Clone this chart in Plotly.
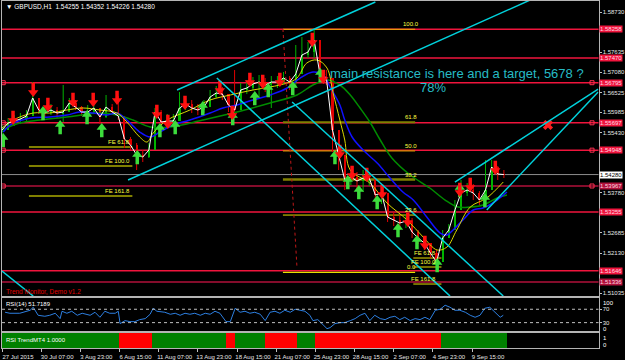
import plotly.graph_objects as go

W, H = 625, 360

# ---------------- data ----------------
tick_bars = [0, 64, 128, 192, 256, 320, 384, 448, 512, 576, 640, 704, 768]
tick_labels = ["27 Jul 2015", "30 Jul 07:00", "3 Aug 23:00", "6 Aug 15:00", "11 Aug 07:00",
               "13 Aug 23:00", "18 Aug 15:00", "21 Aug 07:00", "25 Aug 23:00", "28 Aug 15:00",
               "2 Sep 07:00", "4 Sep 23:00", "9 Sep 15:00"]

candle_bar = list(range(0, 830, 10))
first_open = 1.55450
closes = [1.55500,1.55691,1.55746,1.55801,1.55883,1.56376,1.56047,1.55965,1.56047,1.55965,
          1.55992,1.56239,1.56129,1.55992,1.55992,1.56102,1.55856,1.56129,1.55992,1.55883,
          1.55253,1.55089,1.54815,1.54760,1.54952,1.55992,1.55719,1.55746,1.55746,1.56102,
          1.56211,1.56102,1.56047,1.56129,1.56403,1.56513,1.56485,1.56184,1.56047,1.56595,
          1.56650,1.56759,1.56814,1.56732,1.56814,1.56814,1.56923,1.56814,1.57033,1.57553,
          1.57635,1.57964,1.56978,1.56923,1.55500,1.54815,1.54131,1.54213,1.54103,1.54185,
          1.54185,1.53720,1.53775,1.53118,1.53035,1.52953,1.53008,1.52707,1.52543,1.52406,
          1.52132,1.51885,1.52543,1.52762,1.53309,1.53775,1.53857,1.53775,1.53583,1.53857,
          1.54487,1.54295,1.54280]
highs = [1.55664,1.55828,1.55910,1.55965,1.56047,1.56814,1.56321,1.56157,1.56211,1.56129,
         1.56732,1.56376,1.56321,1.56157,1.56184,1.56376,1.56047,1.56458,1.56211,1.56431,
         1.55828,1.55308,1.55144,1.54952,1.55144,1.56102,1.56047,1.55938,1.55938,1.56540,
         1.56376,1.56321,1.56211,1.56321,1.56595,1.56704,1.56677,1.56431,1.57142,1.56786,
         1.56869,1.56951,1.57005,1.56923,1.56978,1.56978,1.57088,1.56978,1.57827,1.58046,
         1.57909,1.58238,1.57635,1.57142,1.56869,1.55089,1.54459,1.54404,1.54350,1.54404,
         1.54350,1.54131,1.53966,1.53583,1.53254,1.53172,1.53200,1.53090,1.52762,1.52597,
         1.52351,1.52214,1.52762,1.52926,1.53583,1.54131,1.54048,1.54021,1.53829,1.54678,
         1.54678,1.54514,1.54404]
lows = [1.55363,1.55554,1.55609,1.55664,1.55746,1.55910,1.55938,1.55828,1.55910,1.55828,
        1.55719,1.56102,1.56047,1.55883,1.55828,1.55965,1.55664,1.55828,1.55910,1.55773,
        1.55007,1.54952,1.54404,1.54623,1.54733,1.55636,1.55500,1.55609,1.55609,1.55828,
        1.56047,1.55965,1.55910,1.55965,1.56184,1.56376,1.56321,1.55992,1.55828,1.56431,
        1.56485,1.56595,1.56376,1.56540,1.56102,1.56650,1.56759,1.56595,1.56650,1.57361,
        1.57471,1.57471,1.56869,1.56732,1.54897,1.54404,1.53857,1.53994,1.53857,1.53802,
        1.53966,1.53528,1.53473,1.52981,1.52871,1.52762,1.52816,1.52543,1.52378,1.52214,
        1.51995,1.51721,1.52077,1.52543,1.52816,1.53583,1.53693,1.53583,1.53446,1.53473,
        1.54267,1.54131,1.54185]

yellow_bar = [0,18,51,78,106,132,160,188,204,225,237,247,270,307,340,373,410,438,466,482,
              498,515,531,541,552,560,569,601,629,662,688,711,727,743,765,792,819]
yellow_val = [1.55554,1.55773,1.55965,1.55965,1.56047,1.56102,1.56047,1.55965,1.55719,1.55308,
              1.55171,1.55418,1.55773,1.56047,1.56321,1.56458,1.56595,1.56677,1.56786,1.56923,
              1.57334,1.57416,1.57197,1.56513,1.55773,1.55226,1.54404,1.54048,1.53501,1.53035,
              1.52570,1.52214,1.52296,1.52762,1.53391,1.53638,1.54076]
blue_bar = [2,13,46,78,106,127,149,172,188,204,225,242,258,279,307,340,361,384,410,438,
            466,487,508,525,536,552,560,572,590,613,634,655,672,694,716,727,737,753,770,786,809,825]
blue_val = [1.55445,1.55636,1.55828,1.55856,1.55910,1.55992,1.55965,1.55910,1.55965,1.55773,
            1.55445,1.55308,1.55445,1.55636,1.55773,1.55965,1.56102,1.56184,1.56321,1.56458,
            1.56650,1.56923,1.57088,1.57005,1.56677,1.56184,1.55773,1.55308,1.54952,1.54596,
            1.54185,1.53802,1.53583,1.53118,1.52679,1.52625,1.52762,1.53035,1.53309,1.53364,
            1.53583,1.53802]
green_bar = [0,29,62,106,160,188,214,242,275,328,384,438,482,508,531,552,569,585,601,618,
             637,667,699,724,745,765,786,809,825]
green_val = [1.55500,1.55691,1.55773,1.55856,1.55965,1.55910,1.55773,1.55582,1.55582,1.55773,
             1.55992,1.56239,1.56458,1.56732,1.56869,1.56732,1.56458,1.56102,1.55719,1.55226,
             1.54733,1.54267,1.53912,1.53583,1.53391,1.53391,1.53446,1.53638,1.53720]

up_arrow_bar = [2,67,95,139,163,221,258,283,328,377,413,435,475,520,544,565,583,613,647,678,711,748,789]
up_arrow_price = [1.55226,1.55965,1.55582,1.55856,1.55500,1.54760,1.55500,1.55582,1.56102,1.55828,
                  1.56376,1.56595,1.56650,1.57005,1.54760,1.54076,1.53802,1.53528,1.52762,1.52433,
                  1.51803,1.53857,1.53583]
down_arrow_bar = [18,51,75,116,149,188,253,271,299,356,376,405,426,454,507,525,552,572,596,621,
                  663,691,748,765,806]
down_arrow_price = [1.55828,1.56595,1.56184,1.56321,1.56321,1.56376,1.55992,1.55719,1.56239,1.56650,
                    1.55965,1.56869,1.56814,1.56869,1.57964,1.56951,1.54897,1.54322,1.54267,1.53802,
                    1.53035,1.52406,1.53857,1.53994,1.54459]

hline_prices = [1.58258, 1.57470, 1.56795, 1.55697, 1.54948, 1.53967, 1.53255, 1.51646, 1.51336]
hline_dark = [False, False, False, False, False, True, False, False, True]
hline_marked = [False, False, True, True, True, True, False, False, False]
bid_price = 1.54280
price_ticks = [1.58730, 1.57635, 1.57080, 1.56525, 1.55985, 1.55430, 1.53780, 1.52685, 1.52130, 1.51035]

fib_levels = [1.58258, 1.55715, 1.54929, 1.54143, 1.53171, 1.51600]
fib_labels = ["100.0", "61.8", "50.0", "38.2", "23.6", "0.0"]
fib_colors = ["#E8C000", "#808000", "#D09000", "#808000", "#E8E000", "#E8E000"]
fib_widths = [1.2, 2, 1.2, 2.5, 1, 1.2]
fib_bar0, fib_bar1 = 459, 675

fe1_levels = [1.55034, 1.54514, 1.53693]
fe1_labels = ["FE 61.8", "FE 100.0", "FE 161.8"]
fe1_bar0, fe1_bar1 = 44, 213
fe2_levels = [1.51995, 1.51749, 1.51283]
fe2_labels = ["FE 61.8", "FE 100.0", "FE 161.8"]
fe2_bar0, fe2_bar1 = 672, 718

# trend lines (bar0, price0, bar1, price1)
chan_bar0 = [286, 206, 351, 474, 0, 740, 792]
chan_p0 = [1.56595, 1.54131, 1.56923, 1.56266, 1.51639, 1.54076, 1.53309]
chan_bar1 = [610, 863, 732, 819, 51, 974, 974]
chan_p1 = [1.59004, 1.59059, 1.50955, 1.50955, 1.50955, 1.56622, 1.56540]

vline_bar = [459, 482]
vline_price = [1.58265, 1.51721]
x_mark_bar, x_mark_price = 892, 1.55637

note_bar, note_price = 532, 1.57060
pct_bar, pct_price = 680, 1.56677

rsi_bar = [5,13,29,46,51,59,70,78,87,95,98,106,114,123,131,144,152,160,168,176,185,190,193,201,209,
           217,225,234,242,247,253,266,275,283,291,299,307,315,324,332,340,348,356,366,373,381,389,397,
           405,413,422,430,438,446,454,462,471,479,487,495,503,508,516,523,531,536,544,552,560,569,577,
           585,593,601,609,618,626,634,642,650,658,667,675,683,691,699,708,716,724,732,740,748,757,765,
           773,781,789,797,806,814,819]
rsi_val = [61,58,58,67,76,52,49,52,58,42,64,58,64,52,58,52,61,46,64,58,58,64,27,36,33,
           33,39,42,55,73,64,61,55,58,52,58,55,58,52,58,55,64,58,33,33,73,61,64,
           58,61,55,36,61,64,58,67,61,70,67,64,52,36,39,27,12,15,27,30,30,36,42,
           52,58,36,52,42,39,46,49,39,46,36,42,39,46,39,67,70,82,76,67,67,61,52,
           46,52,73,76,61,46,52]
rsi_last = 51.7189

trend_edges = [0, 191, 245, 366, 381, 430, 482, 511, 717, 825]
trend_state = [1, 0, 1, 0, 1, 0, 1, 0, 1]

# ---------------- layout helpers ----------------
def py(p):  # pixel row -> paper fraction
    return 1 - p / H

def px(p):
    return p / W

X_DOM = [px(2), px(598.5)]
X_RANGE = [0, 974.6]
Y_MAIN = [1.50955, 1.59032]
PX_PRICE = (Y_MAIN[1] - Y_MAIN[0]) / 295.0   # price per screen pixel (for glyph offsets)
FONT = "Liberation Sans"

fig = go.Figure()

# candles
opens = [first_open] + closes[:-1]
hi = [max(h, o, c) for h, o, c in zip(highs, opens, closes)]
lo = [min(l, o, c) for l, o, c in zip(lows, opens, closes)]
for up, col in ((True, "#00B400"), (False, "#E00000")):
    wx, wy, bx, bb, bh = [], [], [], [], []
    for b, o, c, h, l in zip(candle_bar, opens, closes, hi, lo):
        if (c >= o) != up:
            continue
        wx += [b, b, None]
        wy += [l, h, None]
        bx.append(b)
        bb.append(min(o, c))
        bh.append(max(abs(c - o), 0.00008))
    fig.add_trace(go.Scatter(x=wx, y=wy, mode="lines", line=dict(color=col, width=1),
                             hoverinfo="skip"))
    fig.add_trace(go.Bar(x=bx, y=bh, base=bb, width=3.5, marker=dict(color=col, line_width=0)))

fig.add_trace(go.Scatter(x=green_bar, y=green_val, mode="lines", line=dict(color="#008C00", width=1.5, shape="spline")))
fig.add_trace(go.Scatter(x=blue_bar, y=blue_val, mode="lines", line=dict(color="#1010FF", width=1.5, shape="spline")))
fig.add_trace(go.Scatter(x=yellow_bar, y=yellow_val, mode="lines", line=dict(color="#D8D800", width=1, shape="spline")))
fig.add_trace(go.Scatter(x=candle_bar, y=closes, mode="lines", line=dict(color="#FFFFFF", width=1)))

# arrows: head + stem
def add_arrows(bars, prices, up, col):
    sgn = 1 if up else -1
    heads = [p + sgn * 2.5 * PX_PRICE for p in prices]
    stems = [p - sgn * 3.0 * PX_PRICE for p in prices]
    fig.add_trace(go.Scatter(x=bars, y=stems, mode="markers",
                             marker=dict(symbol="line-ns", size=6, line=dict(color=col, width=3.5))))
    fig.add_trace(go.Scatter(x=bars, y=heads, mode="markers",
                             marker=dict(symbol="triangle-up" if up else "triangle-down", size=9,
                                         color=col, line_width=0)))

add_arrows(up_arrow_bar, up_arrow_price, True, "#3CDC3C")
add_arrows(down_arrow_bar, down_arrow_price, False, "#FF1010")

fig.add_trace(go.Scatter(x=[x_mark_bar], y=[x_mark_price], mode="markers",
                         marker=dict(symbol="x", size=9, color="#FF2020", line_width=0)))

# markers on selected lines
mk_y = [p for p, m in zip(hline_prices, hline_marked) if m]
fig.add_trace(go.Scatter(x=[2] * len(mk_y) + [964] * len(mk_y), y=mk_y + mk_y, mode="markers",
                         marker=dict(symbol="square-open", size=4, color="#FF3050", line_width=1)))

# RSI
fig.add_trace(go.Scatter(x=rsi_bar, y=rsi_val, mode="lines", line=dict(color="#2D7FE0", width=1),
                         xaxis="x2", yaxis="y2"))

# Trend panel
tx = [(a + b) / 2 for a, b in zip(trend_edges[:-1], trend_edges[1:])]
tw = [b - a for a, b in zip(trend_edges[:-1], trend_edges[1:])]
tc = ["#008000" if s else "#FF0000" for s in trend_state]
fig.add_trace(go.Bar(x=tx, y=[1] * len(tx), base=0, width=tw, marker=dict(color=tc, line_width=0),
                     xaxis="x3", yaxis="y3"))

shapes = []
ann = []
# horizontal lines
for p, dark in zip(hline_prices, hline_dark):
    col = "#B0103A" if dark else "#F0143C"
    shapes.append(dict(type="line", xref="x domain", yref="y", x0=0, x1=1, y0=p, y1=p,
                       line=dict(color=col, width=1.5), layer="below"))
    ann.append(dict(xref="paper", yref="y", x=px(599), y=p, xanchor="left", yanchor="middle",
                    text=f"{p:.5f}", showarrow=False, bgcolor=col, borderpad=0,
                    font=dict(size=6, color="#FFD8E0", family=FONT)))
shapes.append(dict(type="line", xref="x domain", yref="y", x0=0, x1=1, y0=bid_price, y1=bid_price,
                   line=dict(color="#8C8C8C", width=1), layer="below"))
ann.append(dict(xref="paper", yref="y", x=px(599), y=bid_price, xanchor="left", yanchor="middle",
                text=f"{bid_price:.5f}", showarrow=False, bgcolor="#FFFFFF", borderpad=0,
                font=dict(size=6, color="#000000", family=FONT)))

# fibonacci retracement
for lv, lb, c, w in zip(fib_levels, fib_labels, fib_colors, fib_widths):
    shapes.append(dict(type="line", xref="x", yref="y", x0=fib_bar0, x1=fib_bar1, y0=lv, y1=lv,
                       line=dict(color=c, width=w), layer="below"))
    ann.append(dict(xref="x", yref="y", x=fib_bar1 - 6, y=lv, xanchor="center", yanchor="bottom",
                    text=lb, showarrow=False, font=dict(size=6, color="#FFFF40", family=FONT)))
for lv, lb in zip(fe1_levels, fe1_labels):
    shapes.append(dict(type="line", xref="x", yref="y", x0=fe1_bar0, x1=fe1_bar1, y0=lv, y1=lv,
                       line=dict(color="#808000", width=2), layer="below"))
    ann.append(dict(xref="x", yref="y", x=fe1_bar1, y=lv, xanchor="right", yanchor="bottom",
                    text=lb, showarrow=False, font=dict(size=6, color="#FFFF40", family=FONT)))
for lv, lb in zip(fe2_levels, fe2_labels):
    shapes.append(dict(type="line", xref="x", yref="y", x0=fe2_bar0, x1=fe2_bar1, y0=lv, y1=lv,
                       line=dict(color="#E8E000", width=1), layer="below"))
    ann.append(dict(xref="x", yref="y", x=fe2_bar1 - 6, y=lv, xanchor="right", yanchor="bottom",
                    text=lb, showarrow=False, font=dict(size=6, color="#FFFF40", family=FONT)))

# dotted vertical
shapes.append(dict(type="line", xref="x", yref="y", x0=vline_bar[0], x1=vline_bar[1],
                   y0=vline_price[0], y1=vline_price[1], line=dict(color="#C01818", width=1, dash="dot")))
# channels
for b0, p0, b1, p1 in zip(chan_bar0, chan_p0, chan_bar1, chan_p1):
    shapes.append(dict(type="line", xref="x", yref="y", x0=b0, x1=b1, y0=p0, y1=p1,
                       line=dict(color="#00D2DC", width=1.5), layer="above"))
# RSI levels
for lv in (70, 30):
    shapes.append(dict(type="line", xref="x2 domain", yref="y2", x0=0, x1=1, y0=lv, y1=lv,
                       line=dict(color="#C0C0C0", width=1, dash="dot")))

# texts
ann.append(dict(xref="x", yref="y", x=note_bar, y=note_price, xanchor="left", yanchor="middle",
                text="main resistance is here and a target, 5678 ?", showarrow=False,
                font=dict(size=13, color="#26BCC6", family=FONT)))
ann.append(dict(xref="x", yref="y", x=pct_bar, y=pct_price, xanchor="left", yanchor="middle",
                text="78%", showarrow=False, font=dict(size=13, color="#26BCC6", family=FONT)))
ann.append(dict(xref="paper", yref="paper", x=px(4), y=py(6.5), xanchor="left", yanchor="middle",
                text="▼ GBPUSD,H1  1.54255 1.54352 1.54226 1.54280", showarrow=False,
                font=dict(size=6.5, color="#FFFFFF", family=FONT)))
ann.append(dict(xref="paper", yref="paper", x=px(4), y=py(291), xanchor="left", yanchor="middle",
                text="Trend Monitor, Demo v1.2", showarrow=False,
                font=dict(size=6.5, color="#E00000", family=FONT)))
ann.append(dict(xref="paper", yref="paper", x=px(4), y=py(304), xanchor="left", yanchor="middle",
                text=f"RSI(14) {rsi_last:.4f}", showarrow=False,
                font=dict(size=6, color="#FFFFFF", family=FONT)))
ann.append(dict(xref="paper", yref="paper", x=px(4), y=py(339.5), xanchor="left", yanchor="middle",
                text="RSI TrendMT4 1.0000", showarrow=False,
                font=dict(size=6, color="#FFFFFF", family=FONT)))
for t, yy in (("100", 302.5), ("0", 328.5), ("1", 337.5), ("0", 345)):
    ann.append(dict(xref="paper", yref="paper", x=px(601), y=py(yy), xanchor="left", yanchor="middle",
                    text=t, showarrow=False, font=dict(size=6, color="#FFFFFF", family=FONT)))

axis_common = dict(showgrid=False, zeroline=False, showline=True, mirror=True,
                   linecolor="#B4B4B4", linewidth=1)

fig.update_layout(
    width=W, height=H, margin=dict(l=0, r=0, t=0, b=0),
    paper_bgcolor="#000000", plot_bgcolor="#000000",
    showlegend=False, barmode="overlay", bargap=0,
    shapes=shapes, annotations=ann,
    xaxis=dict(domain=X_DOM, range=X_RANGE, showticklabels=False, anchor="y", **axis_common),
    xaxis2=dict(domain=X_DOM, matches="x", showticklabels=False, anchor="y2", **axis_common),
    xaxis3=dict(domain=X_DOM, matches="x", anchor="y3", tickvals=tick_bars, ticktext=tick_labels,
                ticks="outside", ticklen=3, tickcolor="#C0C0C0", ticklabelshift=16,
                tickfont=dict(size=6, color="#E6E6E6", family=FONT), **axis_common),
    yaxis=dict(domain=[py(296), py(1)], range=Y_MAIN, side="right", anchor="x",
               tickvals=price_ticks, ticktext=[f"{t:.5f}" for t in price_ticks],
               ticks="outside", ticklen=2, tickcolor="#C0C0C0",
               tickfont=dict(size=6, color="#E6E6E6", family=FONT), **axis_common),
    yaxis2=dict(domain=[py(331), py(298)], range=[5, 103.6], side="right", anchor="x2",
                tickvals=[70, 30], ticktext=["70", "30"], ticks="outside", ticklen=2, tickcolor="#C0C0C0",
                tickfont=dict(size=6, color="#E6E6E6", family=FONT), **axis_common),
    yaxis3=dict(domain=[py(348), py(333)], range=[0, 1], side="right", anchor="x3",
                showticklabels=False, **axis_common),
)

fig.write_html("out.html")
